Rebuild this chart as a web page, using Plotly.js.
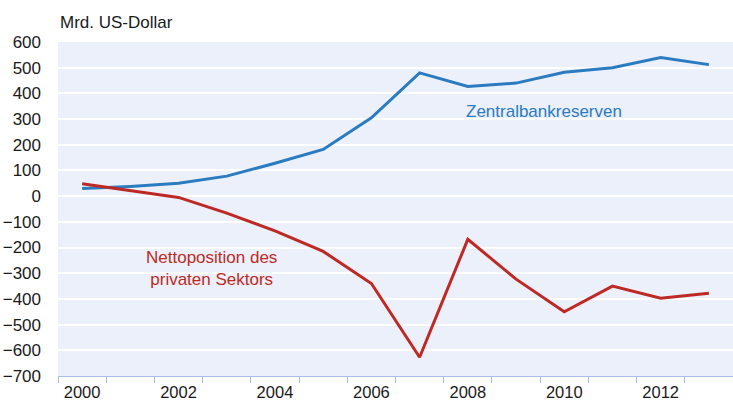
<!DOCTYPE html>
<html>
<head>
<meta charset="utf-8">
<script src="https://cdn.plot.ly/plotly-3.0.1.min.js"></script>
<style>html,body{margin:0;padding:0;background:#fff;}#chart{width:733px;height:403px;}</style>
</head>
<body>
<div id="chart"></div>
<script>
const years = [2000,2001,2002,2003,2004,2005,2006,2007,2008,2009,2010,2011,2012,2013];
const zentralbankreserven = [30,38,50,78,128,182,305,480,427,440,482,500,540,512];
const nettoposition = [48,22,-5,-66,-135,-215,-340,-627,-168,-323,-450,-350,-397,-378];
const xTickLabels = ['2000','2002','2004','2006','2008','2010','2012'];
const xTickVals = [2000,2002,2004,2006,2008,2010,2012];
const yTickVals = [600,500,400,300,200,100,0,-100,-200,-300,-400,-500,-600,-700];
const boundaries = [1999.5,2000.5,2001.5,2002.5,2003.5,2004.5,2005.5,2006.5,2007.5,2008.5,2009.5,2010.5,2011.5,2012.5,2013.5];

const blue = '#2a7bc0';
const red = '#bd2a25';
const font = 'Liberation Sans, Arial, sans-serif';
const fs = 17;

const traces = [
  {x: years, y: zentralbankreserven, type: 'scatter', mode: 'lines', line: {color: blue, width: 3}, hoverinfo: 'skip'},
  {x: years, y: nettoposition, type: 'scatter', mode: 'lines', line: {color: red, width: 3}, hoverinfo: 'skip'}
];

const layout = {
  width: 733, height: 403,
  margin: {l: 58, r: 0, t: 42, b: 27},
  paper_bgcolor: '#ffffff',
  plot_bgcolor: '#ecf0fa',
  showlegend: false,
  font: {family: font, size: fs, color: '#1a1a1a'},
  xaxis: {
    range: [1999.5, 2013.5],
    tickvals: boundaries, ticktext: boundaries.map(() => ''),
    ticks: 'outside', ticklen: 6, tickcolor: '#a9c0e6', tickwidth: 1,
    showline: true, linecolor: '#a9c0e6', linewidth: 1,
    showgrid: false, zeroline: false, fixedrange: true
  },
  xaxis2: {
    overlaying: 'x', anchor: 'y', side: 'bottom',
    range: [1999.5, 2013.5],
    tickvals: xTickVals, ticktext: xTickLabels,
    ticks: '', showline: false, showgrid: false, zeroline: false,
    tickfont: {family: font, size: 16.5, color: '#1a1a1a'},
    ticklabelstandoff: 4
  },
  yaxis: {
    range: [-700, 600],
    tickvals: yTickVals,
    ticks: '', showline: false,
    showgrid: true, gridcolor: '#ffffff', gridwidth: 2,
    zeroline: false,
    tickfont: {family: font, size: fs, color: '#1a1a1a'},
    ticklabelstandoff: 16
  },
  annotations: [
    {xref: 'paper', yref: 'paper', x: 0, y: 1.0, yshift: 20, xanchor: 'left', yanchor: 'middle',
     text: 'Mrd. US-Dollar', showarrow: false, font: {family: font, size: fs, color: '#1a1a1a'}},
    {xref: 'x', yref: 'y', x: 2009.57, y: 330, text: 'Zentralbankreserven', showarrow: false,
     font: {family: font, size: fs, color: blue}},
    {xref: 'x', yref: 'y', x: 2002.69, y: -280, text: 'Nettoposition des<br>privaten Sektors', showarrow: false,
     font: {family: font, size: fs, color: red}}
  ]
};

traces.push({x: [2000], y: [null], xaxis: 'x2', yaxis: 'y', type: 'scatter', mode: 'lines', hoverinfo: 'skip', showlegend: false});

Plotly.newPlot('chart', traces, layout, {displayModeBar: false, staticPlot: true});
</script>
</body>
</html>
